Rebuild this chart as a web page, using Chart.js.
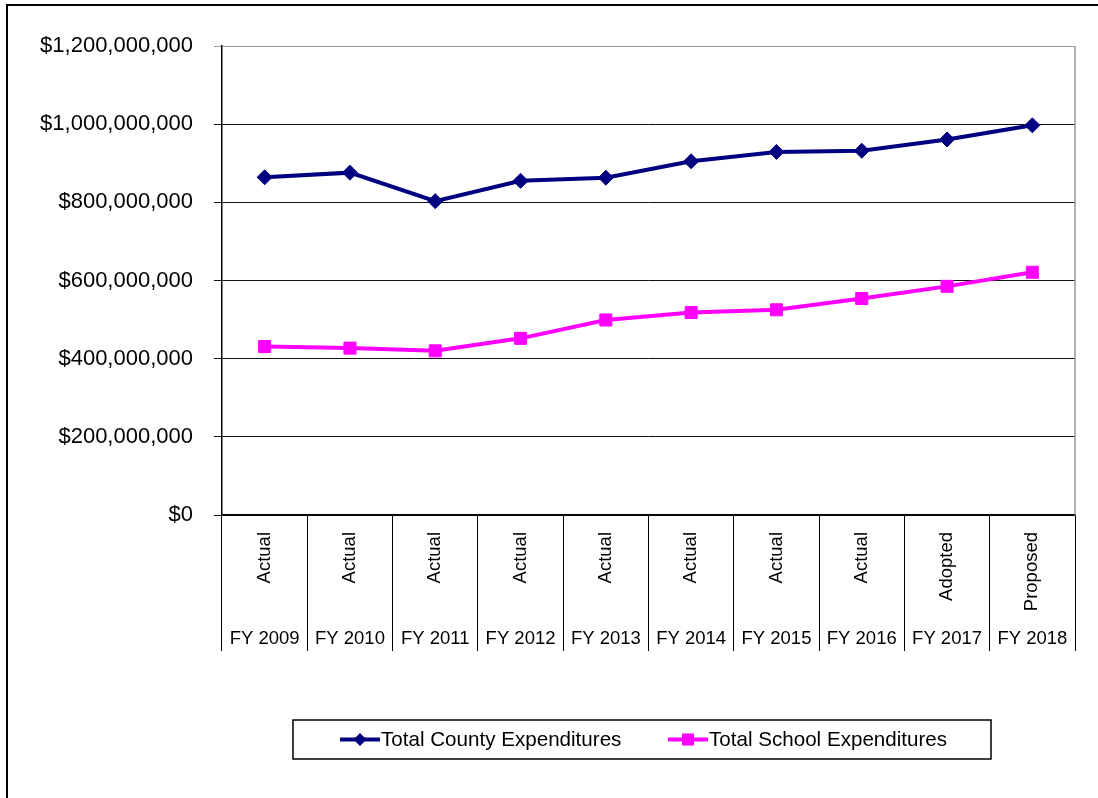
<!DOCTYPE html>
<html>
<head>
<meta charset="utf-8">
<title>County and School Expenditures</title>
<script src="https://cdn.jsdelivr.net/npm/chart.js@4/dist/chart.umd.min.js"></script>
<style>
  html, body { margin: 0; padding: 0; background: #fff; }
  #wrap { width: 1098px; height: 798px; position: relative; }
</style>
</head>
<body>
<div id="wrap"><canvas id="chart"></canvas></div>
<script>
// ========== DATA ==========
const YEARS = ['FY 2009', 'FY 2010', 'FY 2011', 'FY 2012', 'FY 2013', 'FY 2014', 'FY 2015', 'FY 2016', 'FY 2017', 'FY 2018'];
const STATUS = ['Actual', 'Actual', 'Actual', 'Actual', 'Actual', 'Actual', 'Actual', 'Actual', 'Adopted', 'Proposed'];
const COUNTY_TOTALS = [864000000, 876000000, 803000000, 855000000, 863000000, 905000000, 929000000, 932000000, 961000000, 997000000];
const SCHOOL_TOTALS = [431000000, 427000000, 420000000, 452000000, 499000000, 518000000, 525000000, 554000000, 585000000, 621000000];
const Y_MAX = 1200000000;
const Y_STEP = 200000000;

const FONT = 'Arial, "Liberation Sans", sans-serif';

function money(v) {
  return '$' + Number(v).toLocaleString('en-US');
}

// ========== PLUGINS ==========
// outer frame of the chart object (top and left edges only)
const framePlugin = {
  id: 'frame',
  afterDraw(chart) {
    const ctx = chart.ctx;
    ctx.save();
    ctx.strokeStyle = '#000';
    ctx.lineWidth = 2;
    ctx.beginPath();
    ctx.moveTo(1098, 5);
    ctx.lineTo(7, 5);
    ctx.lineTo(7, 798);
    ctx.stroke();
    ctx.restore();
  }
};

// grey right edge of the plot area
const plotBorderPlugin = {
  id: 'plotBorder',
  beforeDatasetsDraw(chart) {
    const a = chart.chartArea;
    const ctx = chart.ctx;
    ctx.save();
    ctx.strokeStyle = '#999';
    ctx.lineWidth = 1.5;
    ctx.beginPath();
    ctx.moveTo(a.right, a.top);
    ctx.lineTo(a.right, a.bottom);
    ctx.stroke();
    ctx.restore();
  }
};

// two-level category labels: rotated status + fiscal year
const categoryLabelPlugin = {
  id: 'categoryLabels',
  afterDraw(chart) {
    const x = chart.scales.x;
    const ctx = chart.ctx;
    const base = chart.chartArea.bottom;
    ctx.save();
    ctx.fillStyle = '#000';
    ctx.font = '18.5px ' + FONT;
    YEARS.forEach((yr, i) => {
      const px = x.getPixelForValue(i);
      ctx.save();
      ctx.translate(px, base + 17);
      ctx.rotate(-Math.PI / 2);
      ctx.textAlign = 'right';
      ctx.textBaseline = 'middle';
      ctx.fillText(STATUS[i], 0, 0);
      ctx.restore();
      ctx.textAlign = 'center';
      ctx.textBaseline = 'middle';
      ctx.fillText(yr, px, base + 124);
    });
    ctx.restore();
  }
};

// boxed legend with line + marker samples
const boxLegendPlugin = {
  id: 'boxLegend',
  afterDraw(chart) {
    const ctx = chart.ctx;
    const box = { left: 293, top: 720, width: 698, height: 39 };
    const midY = box.top + box.height / 2;
    const itemX = [340, 668];
    ctx.save();
    ctx.strokeStyle = '#000';
    ctx.lineWidth = 1.5;
    ctx.strokeRect(box.left, box.top, box.width, box.height);
    ctx.font = '20.6px ' + FONT;
    ctx.textBaseline = 'middle';
    ctx.textAlign = 'left';
    chart.data.datasets.forEach((ds, i) => {
      const x0 = itemX[i];
      ctx.strokeStyle = ds.borderColor;
      ctx.lineWidth = 4;
      ctx.beginPath();
      ctx.moveTo(x0, midY);
      ctx.lineTo(x0 + 40, midY);
      ctx.stroke();
      ctx.fillStyle = ds.borderColor;
      const cx = x0 + 20;
      ctx.beginPath();
      if (ds.pointStyle === 'rectRot') {
        const r = 6.5;
        ctx.moveTo(cx - r, midY);
        ctx.lineTo(cx, midY - r);
        ctx.lineTo(cx + r, midY);
        ctx.lineTo(cx, midY + r);
        ctx.closePath();
      } else {
        ctx.rect(cx - 6, midY - 6, 12, 12);
      }
      ctx.fill();
      ctx.fillStyle = '#000';
      ctx.fillText(ds.label, x0 + 41, midY + 1);
    });
    ctx.restore();
  }
};

// ========== CHART ==========
const ctx = document.getElementById('chart').getContext('2d');
new Chart(ctx, {
  type: 'line',
  data: {
    labels: YEARS,
    datasets: [
      {
        label: 'Total County Expenditures',
        data: COUNTY_TOTALS,
        borderColor: '#000080',
        backgroundColor: '#000080',
        borderWidth: 4,
        pointStyle: 'rectRot',
        pointRadius: 7.5,
        pointBorderWidth: 1,
        tension: 0
      },
      {
        label: 'Total School Expenditures',
        data: SCHOOL_TOTALS,
        borderColor: '#FF00FF',
        backgroundColor: '#FF00FF',
        borderWidth: 4,
        pointStyle: 'rect',
        pointRadius: 8.5,
        pointBorderWidth: 1,
        tension: 0
      }
    ]
  },
  options: {
    responsive: true,
    maintainAspectRatio: false,
    animation: false,
    layout: { padding: { top: 46, right: 23, left: 0, bottom: 0 } },
    plugins: {
      legend: { display: false },
      tooltip: { enabled: false }
    },
    scales: {
      x: {
        offset: true,
        grid: {
          offset: true,
          drawOnChartArea: false,
          drawTicks: true,
          tickLength: 136,
          color: '#000',
          lineWidth: 1
        },
        border: { color: '#000', width: 1.5 },
        ticks: { display: false },
        afterFit(scale) { scale.height = 283; }
      },
      y: {
        min: 0,
        max: Y_MAX,
        grid: {
          color: (c) => (c.tick && c.tick.value === Y_MAX ? '#999' : '#111'),
          lineWidth: 1,
          tickLength: 8
        },
        border: { color: '#000', width: 1.5 },
        ticks: {
          stepSize: Y_STEP,
          padding: 21,
          color: '#000',
          font: { family: FONT, size: 22 },
          callback: (v) => money(v)
        },
        afterFit(scale) { scale.width = 222; }
      }
    }
  },
  plugins: [plotBorderPlugin, categoryLabelPlugin, boxLegendPlugin, framePlugin]
});
</script>
</body>
</html>
